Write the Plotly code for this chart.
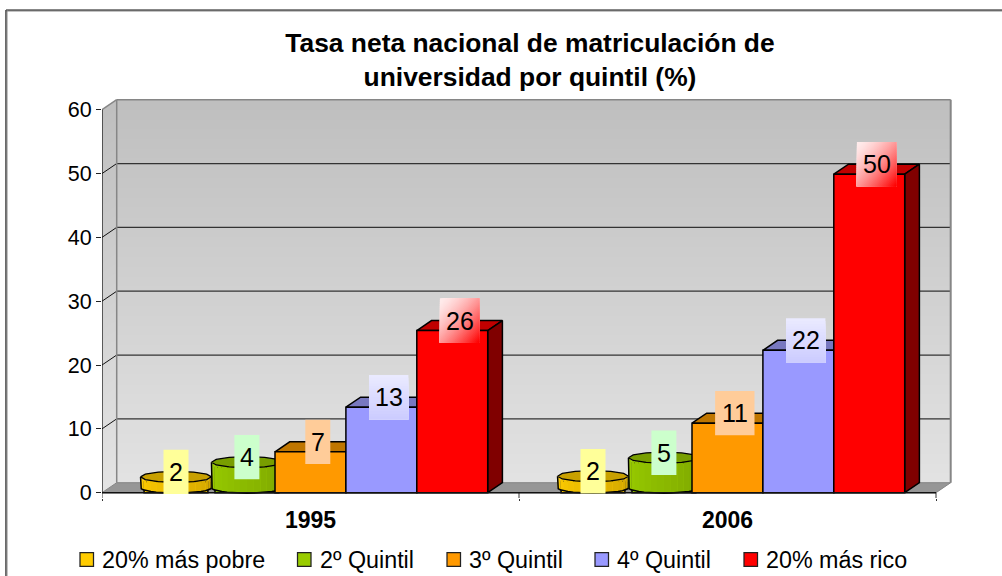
import plotly.graph_objects as go
import math

years = ["1995", "2006"]
series_names = ["20% más pobre", "2º Quintil", "3º Quintil", "4º Quintil", "20% más rico"]
values_1995 = [1.7, 4.0, 6.4, 13.4, 25.4]
values_2006 = [1.8, 4.7, 10.9, 22.3, 49.9]
labels_1995 = ["2", "4", "7", "13", "26"]
labels_2006 = ["2", "5", "11", "22", "50"]
y_ticks = [0, 10, 20, 30, 40, 50, 60]

front = ["#ffcc00", "#99cc00", "#ff9900", "#9999ff", "#ff0000"]
front_dark = ["#cfa400", "#7ca500", None, None, None]
top = ["#c8a000", "#789e00", "#bf7600", "#7878c0", "#c00000"]
side = [None, None, "#804c00", "#4c4c80", "#800000"]
label_bg = ["#ffff99", "#ccffcc", "#ffcc99", "#ccccff", "#ff0000"]

FONT = "Liberation Sans"
W, H = 1002, 576
PL, PR, PT, PB = 102.0, 952.0, 98.0, 498.0
Y0 = 492.7
SX, SY = 417.0, 6.383
DX, DY = 14.7 / SX, 10.0 / SY
XMAX = 2 + DX
BAR_W = 70.9 / SX
START = 31.2 / SX
x_range = [0, (PR - PL) / SX]
y_range = [-(PB - Y0) / SY, (Y0 - PT) / SY]


def paper_x(px):
    return (px - PL) / (PR - PL)


def paper_y(py):
    return (PB - py) / (PB - PT)


fig = go.Figure()
shapes = []
annotations = []


def line(x0, y0, x1, y1, color, width, layer="below"):
    shapes.append(dict(type="line", x0=x0, y0=y0, x1=x1, y1=y1, xref="x", yref="y",
                       line=dict(color=color, width=width), layer=layer))


# wall gradient: painted top to bottom, each band reaching the floor
BANDS = 40
for i in range(BANDS):
    t = i / (BANDS - 1)
    g = round(0xbf + (0xe3 - 0xbf) * t)
    col = f"rgb({g},{g},{g})"
    yb = (60 + DY) * (1 - i / BANDS)
    shapes.append(dict(type="rect", x0=DX, x1=XMAX, y0=DY, y1=yb, xref="x", yref="y",
                       fillcolor=col, line=dict(width=0), layer="below"))
    ys = 60 * (1 - i / BANDS)
    shapes.append(dict(type="path", xref="x", yref="y",
                       path=f"M 0 0 L {DX} {DY} L {DX} {ys + DY} L 0 {ys} Z",
                       fillcolor=col, line=dict(width=0), layer="below"))

# floor
shapes.append(dict(type="path", xref="x", yref="y",
                   path=f"M 0 0 L {DX} {DY} L {XMAX} {DY} L 2 0 Z",
                   fillcolor="#969696", line=dict(color="#868686", width=1), layer="below"))

# gridlines on side and back walls
for v in y_ticks[1:-1]:
    line(DX, v + DY, XMAX, v + DY, "#333333", 1.25)
    line(0, v, DX, v + DY, "#111111", 1)
line(DX, 60 + DY, XMAX, 60 + DY, "#868686", 1.5)
line(0, 60, DX, 60 + DY, "#868686", 1.5)
line(DX, DY, DX, 60 + DY, "#868686", 1.5)
line(XMAX, DY, XMAX, 60 + DY, "#868686", 2)
line(0, 0, 0, 60, "#111111", 1.25)
line(0, 0, 2, 0, "#111111", 1.5, "above")
for t_ in [0, 1, 2]:
    line(t_, 0, t_, y_range[0], "#333333", 1)


def poly(xs, ys, fill, outline="black", lw=1.5):
    fig.add_trace(go.Scatter(
        x=xs, y=ys, mode="lines", fill="toself", fillcolor=fill,
        line=dict(color=outline if outline else fill, width=lw if outline else 0),
        hoverinfo="skip", showlegend=False))


def mix(c1, c2, t):
    a = [int(c1[i:i + 2], 16) for i in (1, 3, 5)]
    b = [int(c2[i:i + 2], 16) for i in (1, 3, 5)]
    return "rgb(" + ",".join(str(round(p + (q - p) * t)) for p, q in zip(a, b)) + ")"


groups = [values_1995, values_2006]

# depth faces of the box bars (under every front face)
for g, vals in enumerate(groups):
    for s in range(2, 5):
        x0 = g + START + s * BAR_W
        x1 = x0 + BAR_W
        v = vals[s]
        poly([x0, x0 + DX, x1 + DX, x1, x0], [v, v + DY, v + DY, v, v], top[s])
        poly([x1, x1 + DX, x1 + DX, x1, x1], [0, DY, v + DY, v, 0], side[s])

# front faces, one real bar trace per series
for s in range(5):
    cyl = s < 2
    fig.add_trace(go.Bar(
        x=[g + START + (s + 0.5) * BAR_W + (DX / 2 if cyl else 0) for g in range(2)],
        y=[vals[s] for vals in groups],
        width=BAR_W * (0.9 if cyl else 1.0), name=series_names[s],
        marker=dict(color=front[s], line=dict(color="black", width=1.5)),
        hoverinfo="skip", showlegend=False,
        xaxis="x" if cyl else "x2", yaxis="y" if cyl else "y2"))

# cylinders for the two low series (orange front face overlaps the green one)
N = 16
for g, vals in enumerate(groups):
    for s in range(2):
        v = vals[s]
        cx = g + START + (s + 0.5) * BAR_W + DX / 2
        a = BAR_W / 2
        b = 5.5 / SY
        base = 5.0 / SY
        ex = [cx - a * math.cos(math.pi * k / N) for k in range(N + 1)]
        low = [-b * math.sin(math.pi * k / N) for k in range(N + 1)]
        for k in range(N):
            t = k / (N - 1)
            poly([ex[k], ex[k + 1], ex[k + 1], ex[k]],
                 [base + low[k], base + low[k + 1], base + v + low[k + 1], base + v + low[k]],
                 mix(front[s], front_dark[s], t), outline=None)
        body_x = [ex[0]] + ex + [ex[-1]]
        body_y = [base + v] + [base + l for l in low] + [base + v]
        fig.add_trace(go.Scatter(x=body_x, y=body_y, mode="lines",
                                 line=dict(color="black", width=1.5), hoverinfo="skip",
                                 showlegend=False))
        tx = [cx - a * math.cos(2 * math.pi * k / 12) for k in range(13)]
        ty = [base + v + b * math.sin(2 * math.pi * k / 12) for k in range(13)]
        poly(tx, ty, top[s], lw=1.25)

# value labels with their gradient boxes
all_labels = [labels_1995, labels_2006]
for g, vals in enumerate(groups):
    for s in range(5):
        text = all_labels[g][s]
        cx = g + START + (s + 0.5) * BAR_W + DX / 2
        cy = vals[s] + DY
        half_w = (12.5 if len(text) == 1 else 19.7) / SX
        half_h = 22.2 / SY
        x0, x1, y0, y1 = cx - half_w, cx + half_w, cy - half_h, cy + half_h
        if s < 3:
            shapes.append(dict(type="rect", x0=x0, x1=x1, y0=y0, y1=y1, xref="x", yref="y",
                               fillcolor=label_bg[s], line=dict(width=0), layer="above"))
        elif s == 3:
            rows = 16
            for r in range(rows):
                t = r / (rows - 1)
                shapes.append(dict(type="rect", x0=x0, x1=x1, y0=y0,
                                   y1=y1 - (y1 - y0) * r / rows, xref="x", yref="y",
                                   fillcolor=mix("#eaeaff", "#ccccff", t), line=dict(width=0),
                                   layer="above"))
        else:
            K = 44
            w_, h_ = x1 - x0, y1 - y0
            for k in range(K):
                d = 2 * k / K
                if d <= 1:
                    pts = [(d, 0), (1, 0), (1, 1), (0, 1), (0, d)]
                else:
                    pts = [(1, d - 1), (1, 1), (d - 1, 1)]
                path = "M " + " L ".join(f"{x0 + u * w_} {y1 - q * h_}" for u, q in pts) + " Z"
                shapes.append(dict(type="path", xref="x", yref="y", path=path,
                                   fillcolor=mix("#ffecec", "#ff0000", (k / (K - 1)) ** 1.5),
                                   line=dict(width=0), layer="above"))
        annotations.append(dict(x=cx, y=cy, xref="x", yref="y", text=text, showarrow=False,
                                xanchor="center", yanchor="middle",
                                font=dict(family=FONT, size=25, color="black")))

# legend
swatch_px = [80, 297.5, 447, 595, 744]
text_px = [102, 320, 469, 617, 766]
LEG_Y = 559.5
for s in range(5):
    shapes.append(dict(type="rect", xref="paper", yref="paper",
                       x0=paper_x(swatch_px[s]), x1=paper_x(swatch_px[s] + 13.5),
                       y0=paper_y(LEG_Y + 6.8), y1=paper_y(LEG_Y - 6.8),
                       fillcolor=front[s], line=dict(color="#222222", width=1.25)))
    annotations.append(dict(x=paper_x(text_px[s]), y=paper_y(LEG_Y), xref="paper", yref="paper",
                            text=series_names[s], showarrow=False, xanchor="left",
                            yanchor="middle", xshift=-2,
                            font=dict(family=FONT, size=23.3, color="black")))

# outer border of the chart area
for x0_, y0_, x1_, y1_, c, w in [
    (6, 10, 1002, 10, "#111111", 1.25), (6, 11, 1002, 11, "#888888", 1),
    (6, 10, 6, 576, "#111111", 1.25), (7, 10, 7, 576, "#888888", 1),
]:
    shapes.append(dict(type="line", xref="paper", yref="paper",
                       x0=paper_x(x0_), x1=paper_x(x1_), y0=paper_y(y0_), y1=paper_y(y1_),
                       line=dict(color=c, width=w)))

fig.update_layout(
    width=W, height=H, autosize=False,
    margin=dict(l=PL, r=W - PR, t=PT, b=H - PB, pad=0),
    paper_bgcolor="white", plot_bgcolor="rgba(0,0,0,0)",
    barmode="overlay", showlegend=False,
    title=dict(text="Tasa neta nacional de matriculación de<br>universidad por quintil (%)",
               x=530 / W, xanchor="center", y=1 - 52 / H, yanchor="middle",
               font=dict(family=FONT, size=26.4, color="black", weight="bold")),
    xaxis=dict(range=x_range, tickmode="array", tickvals=[0.5, 1.5],
               ticktext=[f"<b>{y}</b>" for y in years], ticks="", showgrid=False, zeroline=False,
               showline=False, ticklabelstandoff=6,
               tickfont=dict(family=FONT, size=23, color="black"),
               minor=dict(tickmode="array", tickvals=[0, 1, 2], ticks="outside", ticklen=2,
                          tickcolor="#333333", showgrid=False)),
    yaxis=dict(range=y_range, tickmode="array", tickvals=y_ticks, ticks="outside", ticklen=5,
               tickcolor="#222222", showgrid=False, zeroline=False, showline=False,
               ticklabelstandoff=0,
               tickfont=dict(family=FONT, size=21.5, color="black")),
    xaxis2=dict(range=x_range, overlaying="x", visible=False),
    yaxis2=dict(range=y_range, overlaying="y", visible=False),
    shapes=shapes, annotations=annotations,
)

fig.write_html("out.html", config={"displayModeBar": False},
               post_script="document.body.style.margin='0';document.documentElement.style.overflow='hidden';")
